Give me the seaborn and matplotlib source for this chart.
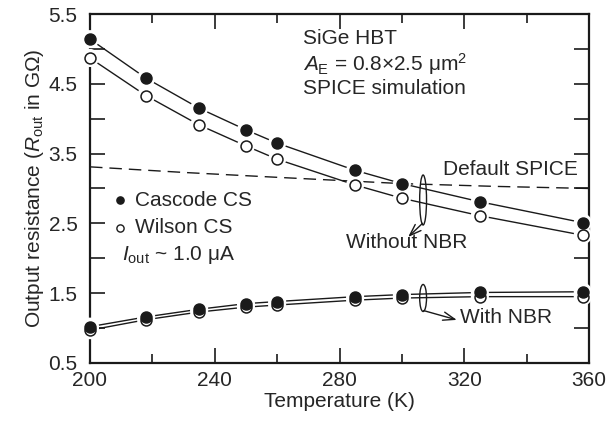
import matplotlib
matplotlib.use("Agg")
import matplotlib.pyplot as plt
import seaborn as sns
import pandas as pd
from matplotlib.patches import Ellipse

temps = [200, 218, 235, 250, 260, 285, 300, 325, 358]
cascode_no_nbr = [5.14, 4.58, 4.15, 3.84, 3.65, 3.26, 3.07, 2.81, 2.51]
wilson_no_nbr = [4.87, 4.33, 3.91, 3.61, 3.42, 3.05, 2.86, 2.61, 2.33]
cascode_nbr = [1.02, 1.16, 1.27, 1.35, 1.38, 1.45, 1.48, 1.51, 1.52]
wilson_nbr = [0.97, 1.12, 1.23, 1.30, 1.33, 1.40, 1.43, 1.45, 1.45]
spice_t = [200, 230, 260, 300, 330, 360]
spice_r = [3.31, 3.23, 3.16, 3.07, 3.03, 3.00]
xticks = [200, 240, 280, 320, 360]
yticks = [0.5, 1.5, 2.5, 3.5, 4.5, 5.5]

sns.set_theme(style="ticks")
plt.rcParams['font.family'] = ['Liberation Sans', 'DejaVu Sans']
plt.rcParams['mathtext.fontset'] = 'custom'
plt.rcParams['mathtext.rm'] = 'Liberation Sans'
plt.rcParams['mathtext.it'] = 'Liberation Sans:italic'
FS = 15

fig = plt.figure(figsize=(6.06, 4.25), dpi=100)
ax = fig.add_axes([0.1485, 0.146, 0.8235, 0.821])

series = [
    (wilson_no_nbr, 'w'),
    (cascode_no_nbr, 'k'),
    (wilson_nbr, 'w'),
    (cascode_nbr, 'k'),
]
for vals, fc in series:
    df = pd.DataFrame({'T': temps, 'R': vals})
    sns.lineplot(data=df, x='T', y='R', ax=ax, color='k', lw=1.0, zorder=2)
for vals, fc in series:
    df = pd.DataFrame({'T': temps, 'R': vals})
    sns.scatterplot(data=df, x='T', y='R', ax=ax, s=170, color='white',
                    edgecolor='none', zorder=3, clip_on=False)
for vals, fc in series:
    df = pd.DataFrame({'T': temps, 'R': vals})
    sns.scatterplot(data=df, x='T', y='R', ax=ax, s=62, color=fc,
                    edgecolor='k', linewidth=1.1, zorder=4, clip_on=False)

sdf = pd.DataFrame({'T': spice_t, 'R': spice_r})
sns.lineplot(data=sdf, x='T', y='R', ax=ax, color='k', lw=1.0,
             dashes=False, linestyle=(0, (9, 5)), zorder=1)

ax.set_xlim(200, 360)
ax.set_ylim(0.5, 5.5)
ax.set_xticks(xticks)
ax.set_xticks([220, 260, 300, 340], minor=True)
ax.set_yticks(yticks)
ax.set_yticks([1.0, 2.0, 3.0, 4.0, 5.0], minor=True)
ax.set_xticklabels([str(t) for t in xticks], fontsize=FS)
ax.set_yticklabels([f"{t:.1f}" for t in yticks], fontsize=FS)
ax.tick_params(which='both', direction='in', top=True, right=True, width=1.2, color='k')
ax.tick_params(axis='x', which='major', length=11, pad=6)
ax.tick_params(axis='x', which='minor', length=6.5)
ax.tick_params(axis='y', which='both', length=11, pad=9)
for sp in ax.spines.values():
    sp.set_linewidth(1.6)
    sp.set_color('k')

ax.set_xlabel('Temperature (K)', fontsize=FS, labelpad=1)
ax.set_ylabel(r'Output resistance ($R_{\mathrm{out}}$ in G$\Omega$)', fontsize=FS, labelpad=2)

# text block
ax.text(303/606, 1-38/425, 'SiGe HBT', transform=fig.transFigure, fontsize=FS, va='center')
ax.text(303/606, 1-64/425, r'$A_{\mathrm{E}}$ = 0.8×2.5 μm$^{2}$', transform=fig.transFigure, fontsize=FS, va='center')
ax.text(303/606, 1-88/425, 'SPICE simulation', transform=fig.transFigure, fontsize=FS, va='center')

# legend
ax.plot([209.6], [2.835], 'o', ms=5.2, mfc='k', mec='k')
ax.text(214.4, 2.835, 'Cascode CS', fontsize=FS, va='center')
ax.plot([209.6], [2.434], 'o', ms=5.2, mfc='w', mec='k', mew=1.0)
ax.text(214.4, 2.434, 'Wilson CS', fontsize=FS, va='center')
ax.text(210.3, 2.047, r'$I_{\mathrm{out}}$ ~ 1.0 μA', fontsize=FS, va='center')

# annotations
ax.text(313.2, 3.27, 'Default SPICE', fontsize=FS, va='center')
ax.add_patch(Ellipse((306.8, 2.835), 2.2, 0.716, fill=False, ec='k', lw=1.0, zorder=5))
ax.annotate('', xy=(302.0, 2.305), xytext=(306.6, 2.50),
            arrowprops=dict(arrowstyle='->,head_length=0.7,head_width=0.25', color='k', lw=1.0,
                            shrinkA=0, shrinkB=0))
ax.text(301.6, 2.23, 'Without NBR', fontsize=FS, va='center', ha='center')
ax.add_patch(Ellipse((306.8, 1.431), 2.2, 0.387, fill=False, ec='k', lw=1.0, zorder=5))
ax.annotate('', xy=(317.6, 1.117), xytext=(307.0, 1.25),
            arrowprops=dict(arrowstyle='->,head_length=0.7,head_width=0.25', color='k', lw=1.0,
                            shrinkA=0, shrinkB=0))
ax.text(318.6, 1.145, 'With NBR', fontsize=FS, va='center')

fig.savefig('out.png', dpi=100)
